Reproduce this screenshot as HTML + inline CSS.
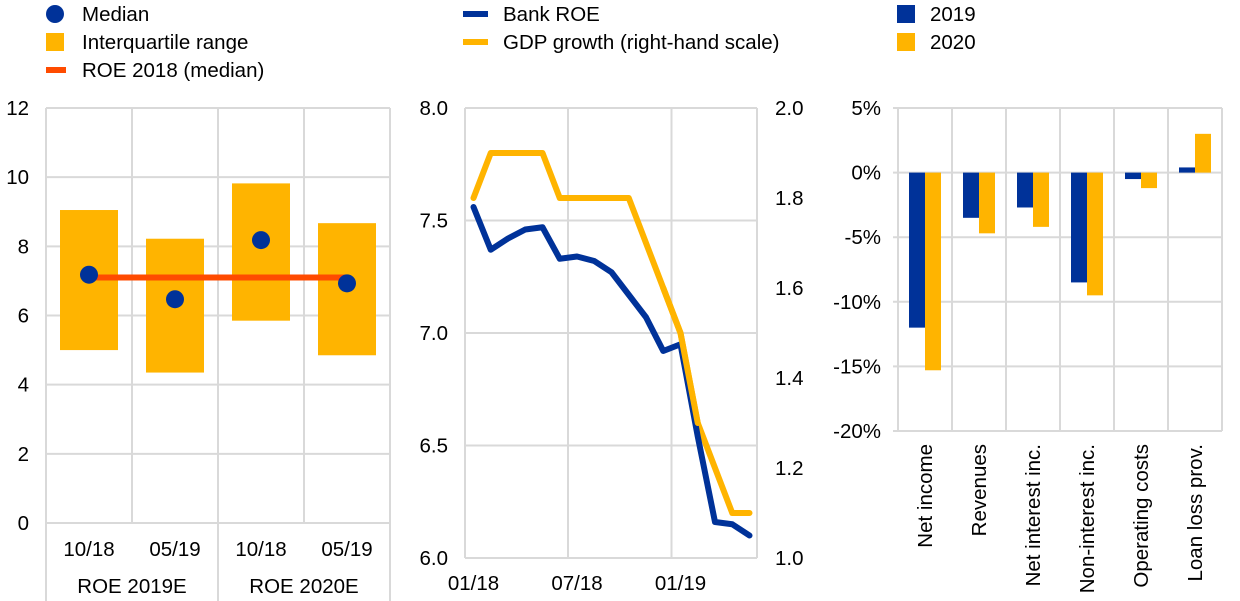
<!DOCTYPE html>
<html><head><meta charset="utf-8"><style>
html,body{margin:0;padding:0;background:#fff;}
svg{display:block;font-family:"Liberation Sans",Arial,sans-serif;}
</style></head><body>
<svg id="c" width="1240" height="601" viewBox="0 0 1240 601" xmlns="http://www.w3.org/2000/svg">
<g font-size="20.5" fill="#000">
<circle cx="55" cy="14" r="9" fill="#003299"/>
<text x="82" y="21">Median</text>
<rect x="46" y="33" width="18" height="18" fill="#FFB400"/>
<text x="82" y="49">Interquartile range</text>
<rect x="46" y="67" width="20" height="6" fill="#FF4B00"/>
<text x="82" y="77">ROE 2018 (median)</text>
<rect x="463" y="11" width="25" height="6" fill="#003299"/>
<text x="503" y="21">Bank ROE</text>
<rect x="463" y="39" width="25" height="6" fill="#FFB400"/>
<text x="503" y="49">GDP growth (right-hand scale)</text>
<rect x="897" y="5" width="18" height="18" fill="#003299"/>
<text x="930" y="21">2019</text>
<rect x="897" y="33" width="18" height="18" fill="#FFB400"/>
<text x="930" y="49">2020</text>
</g>
<g id="p1"></g>
<g id="p2"></g>
<g id="p3"></g>
</svg>
<script>
// Panel 1 data
const p1Cats = ["10/18","05/19","10/18","05/19"];
const p1Groups = ["ROE 2019E","ROE 2020E"];
const p1Low = [5.0, 4.35, 5.85, 4.85];
const p1High = [9.05, 8.22, 9.82, 8.67];
const p1Median = [7.18, 6.47, 8.18, 6.93];
const p1Roe2018 = [7.1];
const p1Ticks = [0,2,4,6,8,10,12];
// Panel 2 data
const p2Months = ["01/18","02/18","03/18","04/18","05/18","06/18","07/18","08/18","09/18","10/18","11/18","12/18","01/19","02/19","03/19","04/19","05/19"];
const p2Roe = [7.56,7.37,7.42,7.46,7.47,7.33,7.34,7.32,7.27,7.17,7.07,6.92,6.95,6.54,6.16,6.15,6.10];
const p2Gdp = [1.8,1.9,1.9,1.9,1.9,1.8,1.8,1.8,1.8,1.8,1.7,1.6,1.5,1.3,1.2,1.1,1.1];
const p2LeftTicks = ["6.0","6.5","7.0","7.5","8.0"];
const p2RightTicks = ["1.0","1.2","1.4","1.6","1.8","2.0"];
const p2XLabels = ["01/18","07/18","01/19"];
// Panel 3 data
const p3Cats = ["Net income","Revenues","Net interest inc.","Non-interest inc.","Operating costs","Loan loss prov."];
const p3V2019 = [-12.0,-3.5,-2.7,-8.5,-0.5,0.4];
const p3V2020 = [-15.3,-4.7,-4.2,-9.5,-1.2,3.0];
const p3Ticks = [5,0,-5,-10,-15,-20];

const NS="http://www.w3.org/2000/svg";
const FS=20.5;
function mk(parent,tag,attrs,text){const e=document.createElementNS(NS,tag);for(const k in attrs)e.setAttribute(k,attrs[k]);if(text!==undefined)e.textContent=text;parent.appendChild(e);return e;}
const GRID="#d9d9d9";

// ---- Panel 1
(function(){
const g=document.getElementById('p1');
const x0=46,x1=390,yTop=108,yBot=523,vmin=0,vmax=12;
const y=v=>yBot-(v-vmin)/(vmax-vmin)*(yBot-yTop);
const cw=(x1-x0)/p1Cats.length;
const cx=i=>x0+cw*(i+0.5);
p1Ticks.forEach(t=>{
 const l=mk(g,'line',{x1:x0,x2:x1,y1:y(t),y2:y(t),stroke:GRID,'stroke-width':2});
 
 
 const tx=mk(g,'text',{x:29,y:y(t)+7,'text-anchor':'end','font-size':FS},String(t));
 
 
});
for(let i=0;i<=p1Cats.length;i++){
 const xx=x0+cw*i;
 const full=(i===0||i===p1Cats.length||i===2);
 const l=mk(g,'line',{x1:xx,x2:xx,y1:yTop,y2:full?601:yBot,stroke:GRID,'stroke-width':2});
 
 
}
p1Cats.forEach((c,i)=>{
 const r=mk(g,'rect',{x:cx(i)-29,y:y(p1High[i]),width:58,height:y(p1Low[i])-y(p1High[i]),fill:'#FFB400'});
 
 
 const t=mk(g,'text',{x:cx(i),y:556,'text-anchor':'middle','font-size':FS},c);
 
 
});
const ln=mk(g,'line',{x1:cx(0),x2:cx(3),y1:y(p1Roe2018[0]),y2:y(p1Roe2018[0]),stroke:'#FF4B00','stroke-width':6});


p1Median.forEach((v,i)=>{
 const c=mk(g,'circle',{cx:cx(i),cy:y(v),r:9,fill:'#003299'});
 
 
});
p1Groups.forEach((gr,i)=>{
 const t=mk(g,'text',{x:x0+cw*(2*i+1),y:593,'text-anchor':'middle','font-size':FS},gr);
 
 
});
})();

// ---- Panel 2
(function(){
const g=document.getElementById('p2');
const x0=465,x1=757,yTop=108,yBot=558;
const yl=v=>yBot-(v-6)/2*(yBot-yTop);
const yr=v=>yBot-(v-1)/1*(yBot-yTop);
const xm=i=>473.5+i*17.25;
p2LeftTicks.forEach(t=>{
 const v=parseFloat(t);
 const l=mk(g,'line',{x1:x0,x2:x1,y1:yl(v),y2:yl(v),stroke:GRID,'stroke-width':2});
 
 
 const tx=mk(g,'text',{x:448,y:yl(v)+7,'text-anchor':'end','font-size':FS},t);
 
 
});
p2RightTicks.forEach(t=>{
 const v=parseFloat(t);
 const tx=mk(g,'text',{x:775,y:yr(v)+7,'text-anchor':'start','font-size':FS},t);
 
 
});
[x0,x1].forEach(xx=>{
 const l=mk(g,'line',{x1:xx,x2:xx,y1:yTop,y2:yBot,stroke:GRID,'stroke-width':2});
 
 
});
p2XLabels.forEach(lb=>{
 const i=p2Months.indexOf(lb);
 if(i>0){
  const l=mk(g,'line',{x1:xm(i)-9,x2:xm(i)-9,y1:yTop,y2:yBot,stroke:GRID,'stroke-width':2});
  
  
 }
 const t=mk(g,'text',{x:xm(i),y:590,'text-anchor':'middle','font-size':FS},lb);
 
 
});
const gp=mk(g,'polyline',{points:p2Gdp.map((v,i)=>xm(i)+','+yr(v)).join(' '),fill:'none',stroke:'#FFB400','stroke-width':6,'stroke-linejoin':'round','stroke-linecap':'round'});


const rp=mk(g,'polyline',{points:p2Roe.map((v,i)=>xm(i)+','+yl(v)).join(' '),fill:'none',stroke:'#003299','stroke-width':6,'stroke-linejoin':'round','stroke-linecap':'round'});


const gp2=mk(g,'polyline',{points:p2Gdp.slice(11,14).map((v,k)=>xm(k+11)+','+yr(v)).join(' '),fill:'none',stroke:'#FFB400','stroke-width':6,'stroke-linejoin':'round','stroke-linecap':'round'});


})();

// ---- Panel 3
(function(){
const g=document.getElementById('p3');
const x0=898,x1=1222,yTop=108,yBot=431,vmax=5,vmin=-20;
const y=v=>yTop+(vmax-v)/(vmax-vmin)*(yBot-yTop);
const cw=(x1-x0)/p3Cats.length;
p3Ticks.forEach(t=>{
 const l=mk(g,'line',{x1:x0-5,x2:x1,y1:y(t),y2:y(t),stroke:GRID,'stroke-width':2});
 
 
 const tx=mk(g,'text',{x:881,y:y(t)+7,'text-anchor':'end','font-size':FS},t+'%');
 
 
});
for(let i=0;i<=p3Cats.length;i++){
 const xx=x0+cw*i;
 const l=mk(g,'line',{x1:xx,x2:xx,y1:yTop,y2:yBot,stroke:GRID,'stroke-width':2});
 
 
}
p3Cats.forEach((c,i)=>{
 const cx=x0+cw*(i+0.5);
 const a=p3V2019[i],b=p3V2020[i];
 const r1=mk(g,'rect',{x:cx-16,y:Math.min(y(a),y(0)),width:16,height:Math.abs(y(a)-y(0)),fill:'#003299'});
 
 
 const r2=mk(g,'rect',{x:cx,y:Math.min(y(b),y(0)),width:16,height:Math.abs(y(b)-y(0)),fill:'#FFB400'});
 
 
 const t=mk(g,'text',{x:0,y:0,'text-anchor':'end','font-size':FS,transform:'translate('+(cx+7)+',444) rotate(-90)'},c);
 
 
});
})();
</script>
</body></html>
